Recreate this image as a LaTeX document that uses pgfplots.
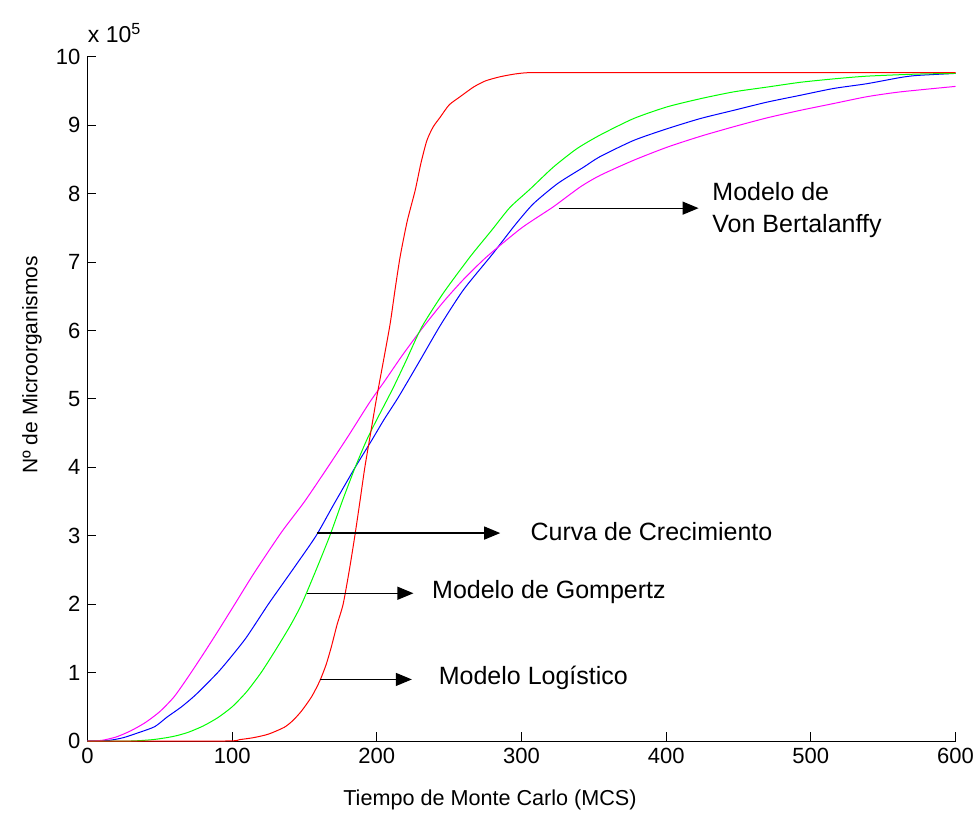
\documentclass[border=0pt]{standalone}
\usepackage{fontspec}
\setmainfont{Liberation Sans}
\usepackage{pgfplots}
\pgfplotsset{compat=1.18}
\usetikzlibrary{arrows.meta}
\definecolor{curvemagenta}{RGB}{255,0,255}

% Growth curve (simulation) and the three fitted models, values in units of 10^5
\pgfplotstableread{
x y
0 0
15 0.01
25 0.05
35 0.12
46.5 0.21
55 0.35
65 0.5
75 0.68
90 1.0
100 1.25
110 1.52
125 2.0
135 2.3
145 2.6
158 3.0
170 3.45
185 4.0
196 4.38
205 4.7
215 5.03
230 5.57
244 6.08
260 6.6
280 7.12
295 7.53
308 7.85
325 8.15
343 8.39
354 8.54
377.5 8.78
400.5 8.95
423.6 9.10
446.6 9.22
469.7 9.34
492.7 9.44
515.8 9.54
538.9 9.61
561.9 9.70
573.4 9.73
600 9.76
}\curva

\pgfplotstableread{
x y
0 0
10 0.01
20 0.06
30 0.15
40 0.27
50 0.43
60 0.65
70 0.95
80 1.27
90 1.6
101.8 2.0
115 2.45
134 3.05
150 3.5
166 4.0
180 4.45
195 4.95
205 5.25
218 5.65
232 6.05
246 6.42
260 6.75
276 7.08
300 7.5
322 7.81
340.6 8.1
354.4 8.27
377.5 8.49
400.5 8.68
423.6 8.84
446.6 8.98
469.7 9.11
492.7 9.22
515.8 9.32
538.9 9.42
561.9 9.49
600 9.57
}\bertalanffy

\pgfplotstableread{
x y
0 0
30 0.0
45 0.02
55 0.05
62 0.08
70 0.13
80 0.22
90 0.34
100 0.5
110 0.72
120 1.0
130 1.33
140 1.68
148 2.0
158 2.5
167.5 3.0
176 3.5
185 4.0
193 4.4
200 4.7
211 5.15
220 5.55
231 6.05
246 6.55
264.5 7.08
279.5 7.47
292 7.8
306 8.07
322 8.39
338.3 8.66
354.4 8.86
377.5 9.10
400.5 9.27
423.6 9.39
446.6 9.49
469.7 9.56
492.7 9.63
515.8 9.68
538.9 9.72
573.4 9.75
600 9.76
}\gompertz

\pgfplotstableread{
x y
0 0
95 0
105 0.02
115 0.05
125 0.1
136 0.2
142 0.3
148 0.44
155 0.65
160.6 0.88
165 1.12
168.6 1.38
172.5 1.7
176.7 2.0
181 2.5
184.8 3.0
188.3 3.5
191.7 4.0
195.7 4.5
199.7 5.0
204.5 5.55
209.2 6.1
212.6 6.6
216.1 7.08
221 7.6
226.5 8.05
230.5 8.45
234.6 8.78
239 8.98
243.8 9.12
250 9.3
257.6 9.42
266.8 9.56
275 9.65
285 9.71
295 9.75
304 9.77
320 9.77
350 9.77
400 9.77
450 9.77
500 9.77
550 9.77
600 9.77
}\logistico

\begin{document}
\begin{tikzpicture}
\useasboundingbox (-43.75pt,-36pt) rectangle (444.75pt,370.5pt);
\begin{axis}[
  scale only axis, width=434pt, height=342pt,
  at={(0,0)}, anchor=south west,
  xmin=0, xmax=600, ymin=0, ymax=10,
  axis x line*=bottom, axis y line*=left,
  xtick={0,100,...,600}, ytick={0,1,...,10},
  tick align=inside, major tick length=4.5pt,
  tick style={black, line width=0.5pt},
  axis line style={black, line width=0.5pt},
  tick label style={font=\fontsize{11}{13}\selectfont},
  /pgf/number format/assume math mode=true,
  xlabel={Tiempo de Monte Carlo (MCS)},
  ylabel={Nº de Microorganismos},
  xlabel style={at={(axis description cs:0.4637,0)}, anchor=base, yshift=-32pt,
    font=\fontsize{10.8}{13}\selectfont},
  ylabel style={at={(axis description cs:-0.0835,0.55)}, anchor=north,
    font=\fontsize{10.5}{13}\selectfont},
  clip=false,
  every axis plot/.append style={line width=0.5pt, mark=none, smooth, tension=0.4},
]
\addplot[blue] table {\curva};
\addplot[curvemagenta] table {\bertalanffy};
\addplot[green] table {\gompertz};
\addplot[red] table {\logistico};

\node[anchor=base west, inner sep=0, font=\fontsize{11.5}{13}\selectfont]
  at ([yshift=7pt]rel axis cs:0,1) {x 10\textsuperscript{5}};

% annotation arrows and labels
\tikzset{lbl/.style={anchor=base west, inner sep=0, font=\fontsize{12.5}{15}\selectfont},
         arr/.style={-{Triangle[length=8pt,width=6.5pt]}, line width=0.6pt, black}}
\draw[arr] (axis cs:158.5,3.04) -- (axis cs:285.3,3.04);
\node[lbl] at (axis cs:306,2.93) {Curva de Crecimiento};
\draw[arr] (axis cs:151.6,2.16) -- (axis cs:225.3,2.16);
\node[lbl] at (axis cs:238,2.086) {Modelo de Gompertz};
\draw[arr] (axis cs:160.8,0.90) -- (axis cs:224.2,0.90);
\node[lbl] at (axis cs:242.6,0.82) {Modelo Logístico};
\draw[arr] (axis cs:325.6,7.79) -- (axis cs:422.4,7.79);
\node[lbl] at (axis cs:431.7,7.90) {Modelo de};
\node[lbl] at (axis cs:431.7,7.43) {Von Bertalanffy};
\end{axis}
\end{tikzpicture}
\end{document}
